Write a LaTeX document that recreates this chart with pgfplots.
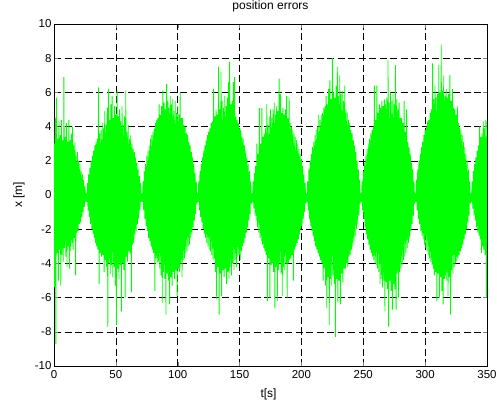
\documentclass[border=0pt]{standalone}
\usepackage{pgfplots}
\pgfplotsset{compat=1.18}
\usepackage{fontspec}
\setmainfont{Liberation Sans}
\definecolor{mgreen}{RGB}{0,255,0}
\begin{document}
\begin{tikzpicture}
\path[use as bounding box] (-54pt,-43pt) rectangle (443pt,366pt);
\begin{axis}[
  at={(0,0)}, anchor=south west,
  scale only axis, width=433pt, height=342pt,
  xmin=0, xmax=350, ymin=-10, ymax=10,
  xtick={0,50,...,350}, ytick={-10,-8,...,10},
  tick align=inside, major tick length=4pt,
  axis line style={black, line width=0.8pt},
  grid=major,
  major grid style={black, line width=0.5pt, dash pattern=on 7pt off 3.5pt},
  /pgf/number format/assume math mode=true,
  tick label style={font=\fontsize{11.5}{13}\selectfont},
  label style={font=\fontsize{12}{14}\selectfont},
  title style={font=\fontsize{12}{14}\selectfont, at={(axis description cs:0.5,1.035)}, anchor=center},
  title={position errors},
  xlabel={t[s]}, ylabel={x [m]},
  xlabel style={at={(axis description cs:0.4954,-0.0819)}, anchor=center},
  ylabel style={at={(axis description cs:-0.0808,0.5)}, anchor=center},
  yticklabel style={xshift=1pt},
  xticklabel style={yshift=-1pt},
]
\addplot[mgreen, line width=0.85pt, line join=miter] coordinates {
(0,3.0)(0.5,-5.4)(1,4.5)(1.5,-8.7)(2,5.7)(2.5,-3.4)(3,3.3)(3.5,-5.0)(4,4.3)(4.5,-3.2)(5,3.5)(5.5,-5.3)(6,4.4)(6.5,-3.5)(7,3.2)(7.5,-3.9)(8,6.9)(8.5,-3.1)(9,3.4)(9.5,-3.6)(10,4.2)(10.5,-4.2)(11,3.1)(11.5,-3.0)(12,4.4)(12.5,-4.3)(13,3.2)(13.5,-3.3)(14,3.6)(14.5,-2.8)(15,4.0)(15.5,-3.2)(16,2.9)(16.5,-2.5)(17,3.1)(17.5,-4.7)(18,2.3)(18.5,-2.2)(19,2.5)(19.5,-2.1)(20,2.0)(20.5,-1.7)(21,1.8)(21.5,-1.6)(22,1.4)(22.5,-1.3)(23,1.2)(23.5,-1.0)(24,0.9)(24.5,-0.7)(25,0.5)(25.5,-0.4)
(26,0.1)(26.5,-0.4)(27,0.7)(27.5,-0.9)(28,1.2)(28.5,-1.3)(29,1.6)(29.5,-1.7)(30,2.0)(30.5,-2.0)(31,2.3)(31.5,-2.3)(32,2.6)(32.5,-2.5)(33,2.9)(33.5,-2.8)(34,3.1)(34.5,-3.0)(35,3.3)(35.5,-3.2)(36,6.3)(36.5,-5.2)(37,3.6)(37.5,-3.4)(38,3.8)(38.5,-3.6)(39,4.2)(39.5,-3.5)(40,3.9)(40.5,-4.5)(41,4.9)(41.5,-3.8)(42,4.1)(42.5,-4.2)(43,5.1)(43.5,-7.7)(44,6.2)(44.5,-4.0)(45,4.4)(45.5,-4.6)(46,5.3)(46.5,-4.1)(47,5.8)(47.5,-4.8)(48,4.5)(48.5,-4.2)(49,5.2)(49.5,-5.3)(50,4.7)(50.5,-7.6)(51,6.1)(51.5,-4.3)(52,4.6)(52.5,-4.9)(53,5.0)(53.5,-4.1)(54,4.3)(54.5,-6.8)(55,5.2)(55.5,-4.0)(56,4.1)(56.5,-4.4)(57,4.6)(57.5,-6.0)(58,6.1)(58.5,-3.6)(59,3.7)(59.5,-3.9)(60,4.1)(60.5,-3.3)(61,3.3)(61.5,-3.4)(62,3.5)(62.5,-5.7)(63,3.0)(63.5,-2.9)(64,2.7)(64.5,-2.8)(65,2.5)(65.5,-2.3)(66,2.2)(66.5,-2.1)(67,1.9)(67.5,-1.7)(68,1.5)(68.5,-1.4)(69,1.1)(69.5,-0.9)(70,0.7)(70.5,-0.4)
(71,0.1)(71.5,-0.4)(72,0.8)(72.5,-0.9)(73,1.4)(73.5,-1.4)(74,1.8)(74.5,-1.8)(75,2.3)(75.5,-2.1)(76,2.6)(76.5,-2.5)(77,2.9)(77.5,-2.7)(78,3.3)(78.5,-3.0)(79,3.5)(79.5,-3.2)(80,3.7)(80.5,-3.4)(81,3.9)(81.5,-5.6)(82,4.2)(82.5,-3.7)(83,4.4)(83.5,-4.0)(84,4.5)(84.5,-3.9)(85,5.3)(85.5,-4.3)(86,4.7)(86.5,-4.7)(87,5.2)(87.5,-6.3)(88,6.1)(88.5,-4.5)(89,5.4)(89.5,-4.9)(90,5.0)(90.5,-7.0)(91,6.5)(91.5,-4.6)(92,5.5)(92.5,-5.0)(93,5.1)(93.5,-6.4)(94,5.8)(94.5,-4.8)(95,5.3)(95.5,-5.3)(96,5.6)(96.5,-4.5)(97,4.9)(97.5,-4.9)(98,5.5)(98.5,-4.4)(99,4.8)(99.5,-5.9)(100,5.2)(100.5,-4.3)(101,4.7)(101.5,-4.5)(102,6.0)(102.5,-4.0)(103,4.5)(103.5,-4.8)(104,4.5)(104.5,-3.8)(105,4.1)(105.5,-3.7)(106,4.0)(106.5,-3.4)(107,3.6)(107.5,-3.3)(108,3.5)(108.5,-3.0)(109,3.1)(109.5,-2.9)(110,2.9)(110.5,-2.5)(111,2.5)(111.5,-2.3)(112,2.2)(112.5,-1.9)(113,1.8)(113.5,-1.5)(114,1.3)(114.5,-1.1)(115,0.8)(115.5,-0.5)
(116,0.1)(116.5,-0.4)(117,0.8)(117.5,-0.9)(118,1.4)(118.5,-1.3)(119,1.8)(119.5,-1.6)(120,2.2)(120.5,-2.0)(121,2.6)(121.5,-2.3)(122,2.9)(122.5,-2.5)(123,3.2)(123.5,-2.8)(124,3.5)(124.5,-3.0)(125,3.7)(125.5,-3.2)(126,3.9)(126.5,-3.3)(127,4.2)(127.5,-3.5)(128,4.3)(128.5,-3.8)(129,6.2)(129.5,-3.7)(130,4.6)(130.5,-4.5)(131,5.0)(131.5,-6.1)(132,4.7)(132.5,-4.2)(133,7.5)(133.5,-7.0)(134,5.0)(134.5,-4.6)(135,7.2)(135.5,-5.9)(136,5.5)(136.5,-4.4)(137,5.1)(137.5,-4.8)(138,5.8)(138.5,-4.3)(139,5.2)(139.5,-5.2)(140,5.7)(140.5,-4.5)(141,6.6)(141.5,-4.9)(142,7.8)(142.5,-4.2)(143,5.3)(143.5,-4.7)(144,5.5)(144.5,-4.0)(145,6.6)(145.5,-4.4)(146,6.9)(146.5,-3.8)(147,4.6)(147.5,-4.2)(148,4.4)(148.5,-3.6)(149,4.2)(149.5,-3.5)(150,3.9)(150.5,-3.8)(151,3.8)(151.5,-3.3)(152,3.4)(152.5,-3.0)(153,3.3)(153.5,-2.8)(154,2.9)(154.5,-2.5)(155,2.6)(155.5,-2.2)(156,2.2)(156.5,-1.9)(157,1.8)(157.5,-1.5)(158,1.4)(158.5,-1.1)(159,0.8)(159.5,-0.5)
(160,0.1)(160.5,-0.4)(161,0.8)(161.5,-0.8)(162,1.3)(162.5,-1.2)(163,1.7)(163.5,-1.5)(164,3.0)(164.5,-1.9)(165,2.4)(165.5,-2.2)(166,5.1)(166.5,-2.5)(167,3.0)(167.5,-2.7)(168,5.1)(168.5,-2.9)(169,3.4)(169.5,-3.1)(170,3.6)(170.5,-3.3)(171,3.9)(171.5,-3.5)(172,5.3)(172.5,-6.2)(173,4.1)(173.5,-3.7)(174,4.6)(174.5,-6.0)(175,5.0)(175.5,-4.1)(176,4.5)(176.5,-4.0)(177,5.0)(177.5,-4.5)(178,5.4)(178.5,-6.6)(179,4.7)(179.5,-4.2)(180,5.2)(180.5,-6.2)(181,4.9)(181.5,-4.4)(182,6.8)(182.5,-4.0)(183,5.9)(183.5,-4.6)(184,4.8)(184.5,-5.9)(185,5.1)(185.5,-4.2)(186,4.7)(186.5,-4.4)(187,5.0)(187.5,-4.0)(188,5.8)(188.5,-6.0)(189,4.5)(189.5,-4.0)(190,5.7)(190.5,-3.8)(191,4.2)(191.5,-3.7)(192,4.0)(192.5,-3.5)(193,3.8)(193.5,-5.0)(194,3.6)(194.5,-3.2)(195,3.4)(195.5,-3.0)(196,3.2)(196.5,-2.8)(197,3.0)(197.5,-2.6)(198,2.7)(198.5,-2.3)(199,2.4)(199.5,-2.0)(200,2.1)(200.5,-1.8)(201,1.7)(201.5,-1.4)(202,1.2)(202.5,-1.0)(203,0.7)(203.5,-0.5)
(204,0.1)(204.5,-0.4)(205,0.8)(205.5,-0.9)(206,1.5)(206.5,-1.4)(207,2.0)(207.5,-1.8)(208,2.4)(208.5,-2.1)(209,2.8)(209.5,-2.4)(210,3.1)(210.5,-2.7)(211,3.5)(211.5,-3.0)(212,3.8)(212.5,-3.2)(213,4.0)(213.5,-3.4)(214,4.7)(214.5,-3.6)(215,4.4)(215.5,-3.8)(216,4.7)(216.5,-4.0)(217,4.8)(217.5,-5.0)(218,5.1)(218.5,-4.3)(219,5.2)(219.5,-5.3)(220,5.8)(220.5,-6.6)(221,5.3)(221.5,-4.8)(222,6.2)(222.5,-7.6)(223,6.7)(223.5,-4.9)(224,5.6)(224.5,-5.3)(225,8.0)(225.5,-4.7)(226,6.0)(226.5,-5.2)(227,5.7)(227.5,-8.3)(228,6.4)(228.5,-4.9)(229,7.5)(229.5,-6.3)(230,5.8)(230.5,-5.0)(231,7.0)(231.5,-6.4)(232,5.9)(232.5,-4.6)(233,6.1)(233.5,-5.1)(234,5.5)(234.5,-4.3)(235,6.4)(235.5,-4.3)(236,5.0)(236.5,-4.0)(237,4.8)(237.5,-4.2)(238,4.4)(238.5,-3.6)(239,4.2)(239.5,-3.5)(240,3.8)(240.5,-3.2)(241,3.6)(241.5,-3.0)(242,3.2)(242.5,-2.7)(243,2.9)(243.5,-2.4)(244,2.5)(244.5,-2.0)(245,2.0)(245.5,-1.7)(246,1.5)(246.5,-1.2)(247,0.9)(247.5,-0.5)
(248,0.1)(248.5,-0.4)(249,0.8)(249.5,-0.9)(250,1.4)(250.5,-1.4)(251,1.9)(251.5,-1.9)(252,2.3)(252.5,-2.3)(253,2.7)(253.5,-2.6)(254,3.0)(254.5,-2.9)(255,3.3)(255.5,-3.2)(256,3.6)(256.5,-3.4)(257,3.8)(257.5,-3.6)(258,4.0)(258.5,-3.8)(259,6.4)(259.5,-4.0)(260,4.4)(260.5,-4.1)(261,6.4)(261.5,-4.3)(262,4.8)(262.5,-4.5)(263,5.3)(263.5,-5.2)(264,5.1)(264.5,-4.9)(265,5.5)(265.5,-5.4)(266,5.2)(266.5,-5.0)(267,5.6)(267.5,-6.8)(268,5.3)(268.5,-5.1)(269,5.7)(269.5,-5.5)(270,7.9)(270.5,-7.7)(271,5.4)(271.5,-5.0)(272,6.0)(272.5,-5.6)(273,5.5)(273.5,-6.7)(274,5.9)(274.5,-5.2)(275,5.3)(275.5,-5.5)(276,7.6)(276.5,-6.7)(277,5.6)(277.5,-4.6)(278,5.0)(278.5,-6.0)(279,5.4)(279.5,-4.5)(280,4.5)(280.5,-4.3)(281,4.5)(281.5,-4.1)(282,4.2)(282.5,-3.8)(283,5.5)(283.5,-3.6)(284,3.7)(284.5,-3.4)(285,5.0)(285.5,-3.1)(286,3.1)(286.5,-2.8)(287,2.8)(287.5,-2.5)(288,2.4)(288.5,-2.1)(289,1.9)(289.5,-1.7)(290,1.5)(290.5,-1.2)(291,0.8)(291.5,-0.5)
(292,0.1)(292.5,-0.4)(293,0.9)(293.5,-0.9)(294,1.5)(294.5,-1.4)(295,2.0)(295.5,-1.7)(296,2.4)(296.5,-2.1)(297,2.8)(297.5,-2.4)(298,3.1)(298.5,-2.6)(299,3.5)(299.5,-2.9)(300,3.8)(300.5,-3.1)(301,4.0)(301.5,-3.3)(302,4.3)(302.5,-3.5)(303,4.4)(303.5,-3.7)(304,4.8)(304.5,-3.9)(305,5.0)(305.5,-4.1)(306,7.7)(306.5,-4.3)(307,5.6)(307.5,-4.7)(308,6.4)(308.5,-4.5)(309,5.7)(309.5,-6.2)(310,5.9)(310.5,-4.6)(311,7.6)(311.5,-6.0)(312,6.0)(312.5,-4.8)(313,8.8)(313.5,-5.6)(314,6.1)(314.5,-6.4)(315,7.0)(315.5,-4.9)(316,5.8)(316.5,-4.7)(317,6.2)(317.5,-5.0)(318,5.7)(318.5,-5.9)(319,5.9)(319.5,-4.8)(320,7.0)(320.5,-7.0)(321,5.5)(321.5,-4.4)(322,6.2)(322.5,-4.6)(323,5.1)(323.5,-4.2)(324,5.0)(324.5,-4.0)(325,4.7)(325.5,-3.9)(326,5.2)(326.5,-3.7)(327,4.2)(327.5,-3.5)(328,4.0)(328.5,-3.3)(329,3.8)(329.5,-3.1)(330,3.5)(330.5,-2.9)(331,3.1)(331.5,-2.6)(332,2.8)(332.5,-2.3)(333,2.4)(333.5,-2.0)(334,2.0)(334.5,-1.6)(335,1.5)(335.5,-1.2)(336,0.8)(336.5,-0.5)
(337,0.1)(337.5,-0.4)(338,0.8)(338.5,-0.8)(339,1.4)(339.5,-1.2)(340,1.8)(340.5,-1.5)(341,2.2)(341.5,-1.9)(342,2.6)(342.5,-2.2)(343,2.9)(343.5,-2.4)(344,4.0)(344.5,-2.6)(345,3.4)(345.5,-3.4)(346,3.6)(346.5,-3.0)(347,4.3)(347.5,-3.2)(348,3.9)(348.5,-3.5)(349,4.4)(349.5,-6.0)(350,4.3)
};
\end{axis}
\end{tikzpicture}
\end{document}
